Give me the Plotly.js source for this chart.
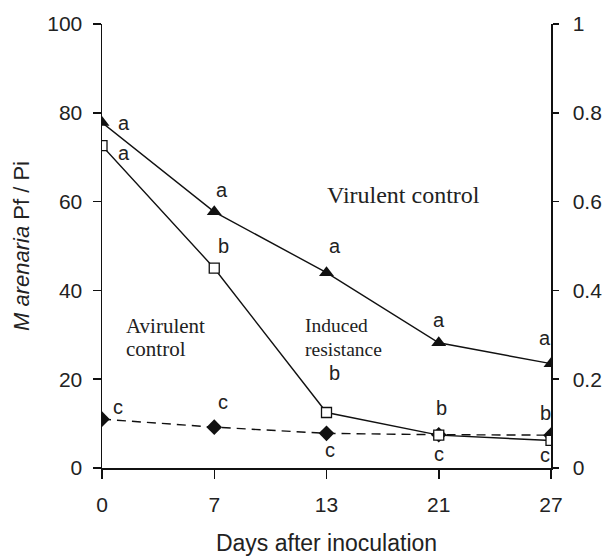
<!DOCTYPE html>
<html><head><meta charset="utf-8">
<script src="https://cdn.plot.ly/plotly-3.0.1.min.js"></script>
<style>html,body{margin:0;padding:0;background:#fff}#chart{width:602px;height:559px}</style>
</head><body><div id="chart"></div>
<script>
// Data
const days = ['0', '7', '13', '21', '27'];
const virulentControl = [77.8, 57.7, 44.0, 28.2, 23.5];
const inducedResistance = [72.6, 45.0, 12.5, 7.4, 6.2];
const avirulentControl = [11.0, 9.2, 7.8, 7.5, 7.4];
const lettersVirulent = ['a', 'a', 'a', 'a', 'a'];
const lettersInduced = ['a', 'b', 'b', 'b', 'b'];
const lettersAvirulent = ['c', 'c', 'c', 'c', 'c'];
const leftTicks = [0, 20, 40, 60, 80, 100];
const rightTicks = [0, 0.2, 0.4, 0.6, 0.8, 1];
const rightTickText = ['0', '0.2', '0.4', '0.6', '0.8', '1'];
const groupLabels = ['Virulent control', 'Avirulent', 'control', 'Induced', 'resistance'];

// Letter offsets (px) relative to each marker
const offVir = [[22, 0], [8, 22], [8, 27], [0, 23], [-6, 26]];
const offInd = [[22, -7], [9, 22], [8, 40], [3, 27], [-6, 27]];
const offAvir = [[16, 12], [9, 25], [3, -17], [0, -19], [-6, -20]];

const lineCol = '#111';
const traces = [
  {x: days, y: avirulentControl, type: 'scatter', mode: 'lines+markers',
   line: {color: lineCol, width: 1.4, dash: '9px,6px'},
   marker: {symbol: 'diamond', size: 12, color: lineCol}},
  {x: days, y: inducedResistance, type: 'scatter', mode: 'lines+markers',
   line: {color: lineCol, width: 1.4},
   marker: {symbol: 'square', size: 10, color: '#fff', line: {color: lineCol, width: 1.3}}},
  {x: days, y: virulentControl, type: 'scatter', mode: 'lines+markers',
   line: {color: lineCol, width: 1.4},
   marker: {symbol: 'triangle-up', size: 13, color: lineCol}},
  {x: days, y: [null, null, null, null, null], yaxis: 'y2', type: 'scatter', mode: 'lines', showlegend: false, hoverinfo: 'skip'}
];

const annotations = [];
function addLetters(series, letters, offs) {
  series.forEach((v, i) => {
    annotations.push({x: i, y: v, xref: 'x', yref: 'y', text: letters[i], showarrow: false,
      xshift: offs[i][0], yshift: offs[i][1], font: {family: 'Arial, Liberation Sans, sans-serif', size: 20, color: '#222'}});
  });
}
addLetters(virulentControl, lettersVirulent, offVir);
addLetters(inducedResistance, lettersInduced, offInd);
addLetters(avirulentControl, lettersAvirulent, offAvir);

const serifFam = 'Liberation Serif, Times New Roman, serif';
const labelPos = [[1.99, 61.5, 24], [0.2, 32, 21], [0.2, 26.8, 21], [1.79, 32, 19.5], [1.79, 26.8, 19.5]];
groupLabels.forEach((t, i) => {
  annotations.push({x: labelPos[i][0], y: labelPos[i][1], xref: 'x', yref: 'y', text: t, showarrow: false,
    xanchor: 'left', yanchor: 'middle', font: {family: serifFam, size: labelPos[i][2], color: '#222'}});
});

const tickFont = {family: 'Arial, Liberation Sans, sans-serif', size: 21, color: '#222'};
const titleFont = {family: 'Arial, Liberation Sans, sans-serif', size: 23, color: '#222'};
const layout = {
  width: 602, height: 559,
  margin: {l: 102, r: 51, t: 24, b: 91},
  paper_bgcolor: '#fff', plot_bgcolor: '#fff',
  showlegend: false,
  xaxis: {type: 'category', range: [0, 4], showgrid: false, zeroline: false,
    showline: true, linecolor: lineCol, linewidth: 1.5,
    ticks: 'outside', ticklen: 9, tickcolor: lineCol, tickwidth: 1.5,
    tickfont: tickFont, ticklabelstandoff: 8,
    title: {text: 'Days after inoculation', font: titleFont, standoff: 20}},
  yaxis: {range: [0, 100], tickvals: leftTicks, showgrid: false, zeroline: false,
    showline: true, linecolor: lineCol, linewidth: 1.5,
    ticks: 'outside', ticklen: 8, tickcolor: lineCol, tickwidth: 1.5,
    tickfont: tickFont, ticklabelstandoff: 6,
    title: {text: '<i>M arenaria</i> Pf / Pi', font: {family: tickFont.family, size: 22, color: '#222'}, standoff: 11}},
  yaxis2: {overlaying: 'y', side: 'right', range: [0, 1], tickvals: rightTicks, ticktext: rightTickText,
    showgrid: false, zeroline: false, showline: true, linecolor: lineCol, linewidth: 1.5,
    ticks: 'outside', ticklen: 6, tickcolor: lineCol, tickwidth: 1.5, tickfont: tickFont, ticklabelstandoff: 10},
  annotations: annotations
};
Plotly.newPlot('chart', traces, layout, {staticPlot: true, displayModeBar: false});
</script></body></html>
